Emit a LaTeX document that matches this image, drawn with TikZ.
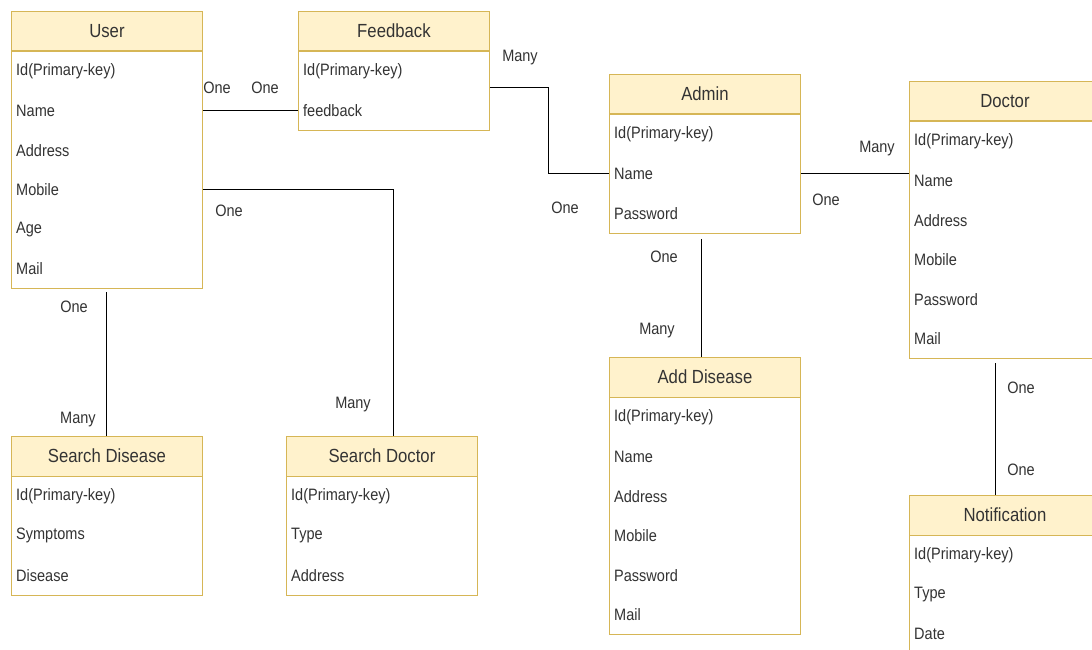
\documentclass[tikz,border=0pt]{standalone}
\usepackage{fontspec}
\setmainfont{Liberation Sans}[FakeStretch=0.88]
\usepackage{tikz}
\usetikzlibrary{positioning}

\definecolor{headfill}{HTML}{FFF2CC}
\definecolor{gold}{HTML}{D6B656}
\definecolor{txt}{HTML}{333333}

% entity: name, top left corner, title, number of rows, rows
\newcommand{\erbox}[5]{%
  \node[head] (#1) at (#2) {#3};
  \node[body, minimum height=#4*39.5pt] (#1-b) at (#1.south west) {};
  \foreach \f [count=\i] in {#5}
    \node[field] (#1-\i) at ([xshift=5pt,yshift={-19.75pt-(\i-1)*39.5pt}]#1.south west) {\f};
}

\begin{document}
\begin{tikzpicture}[x=1pt,y=-1pt,
    head/.style={draw=gold,fill=headfill,line width=0.9pt,anchor=north west,
      minimum width=191pt,minimum height=39.5pt,inner sep=0pt,text=txt,
      font=\fontsize{19}{21}\selectfont},
    body/.style={draw=gold,fill=white,line width=0.9pt,anchor=north west,
      minimum width=191pt,inner sep=0pt},
    field/.style={anchor=west,inner sep=0pt,text=txt,font=\fontsize{16.5}{19}\selectfont},
    card/.style={inner sep=0pt,text=txt,font=\fontsize{16.5}{19}\selectfont},
    link/.style={draw=black,line width=1pt}]

  \clip (0,0) rectangle (1092,650);
  \fill[white] (0,0) rectangle (1092,650);

  \erbox{user}{11,11}{User}{6}{Id(Primary-key),Name,Address,Mobile,Age,Mail}
  \erbox{fb}{298,11}{Feedback}{2}{Id(Primary-key),feedback}
  \erbox{admin}{609,74}{Admin}{3}{Id(Primary-key),Name,Password}
  \erbox{doc}{909,81}{Doctor}{6}{Id(Primary-key),Name,Address,Mobile,Password,Mail}
  \erbox{add}{609,357}{Add Disease}{6}{Id(Primary-key),Name,Address,Mobile,Password,Mail}
  \erbox{notif}{909,495}{Notification}{3}{Id(Primary-key),Type,Date}
  \erbox{sdis}{11,436}{Search Disease}{3}{Id(Primary-key),Symptoms,Disease}
  \erbox{sdoc}{286,436}{Search Doctor}{3}{Id(Primary-key),Type,Address}

  % relations
  \draw[link] (user-b.east |- user-2) -- (fb-b.west |- fb-2);
  \draw[link] (user-b.east |- user-4) -| ([xshift=12pt]sdoc.north);
  \draw[link,shorten <=3pt] (user-b.south) -- (sdis.north);
  \draw[link] ([yshift=4pt]fb-b.east) -- ++(59,0) |- (admin-b.west |- admin-2);
  \draw[link] (admin-b.east |- admin-2) -- (doc-b.west |- admin-2);
  \draw[link,shorten <=5pt] ([xshift=-3pt]admin-b.south) -- ([xshift=-3pt]add.north);
  \draw[link,shorten <=4pt] ([xshift=-9pt]doc-b.south) -- ([xshift=-9pt]notif.north);

  % cardinalities
  \node[card] (c1) at (217,88) {One};
  \node[card] (c2) at (265,88) {One};
  \node[card] (c3) at (229,211) {One};
  \node[card] (c4) at (353,405) {Many};
  \node[card] (c5) at (74,307) {One};
  \node[card] (c6) at (78,420) {Many};
  \node[card] (c7) at (520,58) {Many};
  \node[card] (c8) at (565,208) {One};
  \node[card] (c9) at (877,149) {Many};
  \node[card] (c10) at (826,200) {One};
  \node[card] (c11) at (664,257) {One};
  \node[card] (c12) at (657,331) {Many};
  \node[card] (c13) at (1021,388) {One};
  \node[card] (c14) at (1021,470) {One};
\end{tikzpicture}
\end{document}
